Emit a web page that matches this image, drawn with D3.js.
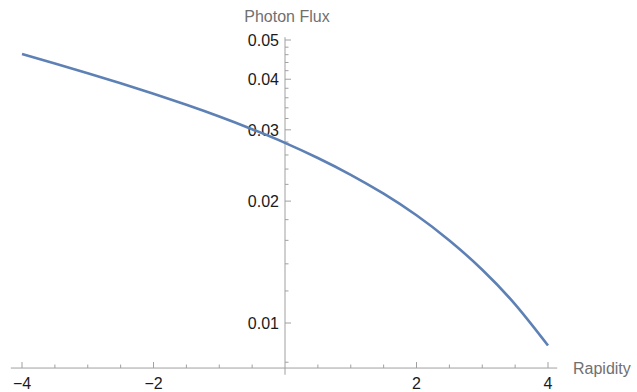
<!DOCTYPE html>
<html>
<head>
<meta charset="utf-8">
<script src="https://cdn.jsdelivr.net/npm/d3@7"></script>
<style>
  html, body { margin: 0; padding: 0; background: #fff; }
  svg { display: block; font-family: "Liberation Sans", Arial, sans-serif; }
</style>
</head>
<body>
<svg id="chart" width="637" height="392"></svg>
<script>
// Data
const rapidity = [-4, -3.5, -3, -2.5, -2, -1.5, -1, -0.5, 0, 0.5, 1, 1.5, 2, 2.5, 3, 3.5, 4];
const photonFlux = [0.04615, 0.04374, 0.04140, 0.03910, 0.03683, 0.03459, 0.03236, 0.03011,
                    0.02786, 0.02556, 0.02323, 0.02086, 0.01845, 0.01599, 0.01354, 0.01112, 0.00880];
const xMajorTicks = [-4, -2, 2, 4];
const xMinorTicks = [-3.5, -3, -2.5, -1.5, -1, -0.5, 0.5, 1, 1.5, 2.5, 3, 3.5];
const yMajorTicks = [0.01, 0.02, 0.03, 0.04, 0.05];
const yMinorTicks = [0.008, 0.012, 0.014, 0.016, 0.018, 0.022, 0.024, 0.026, 0.028,
                     0.032, 0.034, 0.036, 0.038, 0.042, 0.044, 0.046, 0.048];
const xLabel = "Rapidity";
const yLabel = "Photon Flux";

const svg = d3.select("#chart");

const x = d3.scaleLinear().domain([-4, 4]).range([22, 548]);
const y = d3.scaleLog().domain([0.01, 0.05]).range([323, 40]);

const axisColor = "#a0a0a0";
const x0 = x(0);
const yAxisPos = y(0.00774);

// x axis line
svg.append("line")
  .attr("x1", x(-4.17)).attr("x2", x(4.14))
  .attr("y1", yAxisPos).attr("y2", yAxisPos)
  .attr("stroke", axisColor).attr("stroke-width", 1);

// y axis line
svg.append("line")
  .attr("x1", x0).attr("x2", x0)
  .attr("y1", y(0.0508)).attr("y2", y(0.00745))
  .attr("stroke", axisColor).attr("stroke-width", 1);

// x ticks
svg.append("g").selectAll("line").data(xMajorTicks).join("line")
  .attr("x1", d => x(d)).attr("x2", d => x(d))
  .attr("y1", yAxisPos).attr("y2", yAxisPos - 6)
  .attr("stroke", axisColor);
svg.append("g").selectAll("line").data(xMinorTicks).join("line")
  .attr("x1", d => x(d)).attr("x2", d => x(d))
  .attr("y1", yAxisPos).attr("y2", yAxisPos - 3.5)
  .attr("stroke", axisColor);
svg.append("g").selectAll("text").data(xMajorTicks).join("text")
  .attr("x", d => x(d)).attr("y", yAxisPos + 21)
  .attr("text-anchor", "middle")
  .attr("font-size", 16).attr("fill", "#1a1a1a")
  .text(d => d < 0 ? "\u2212" + Math.abs(d) : String(d));

// y ticks
svg.append("g").selectAll("line").data(yMajorTicks).join("line")
  .attr("x1", x0).attr("x2", x0 + 6)
  .attr("y1", d => y(d)).attr("y2", d => y(d))
  .attr("stroke", axisColor);
svg.append("g").selectAll("line").data(yMinorTicks).join("line")
  .attr("x1", x0).attr("x2", x0 + 3.5)
  .attr("y1", d => y(d)).attr("y2", d => y(d))
  .attr("stroke", axisColor);
svg.append("g").selectAll("text").data(yMajorTicks).join("text")
  .attr("x", x0 - 6).attr("y", d => y(d))
  .attr("dy", "0.36em")
  .attr("text-anchor", "end")
  .attr("font-size", 16).attr("fill", "#1a1a1a")
  .text(d => d3.format(".2f")(d));

// axis labels
svg.append("text")
  .attr("x", x0 + 2).attr("y", 22)
  .attr("text-anchor", "middle")
  .attr("font-size", 16).attr("fill", "#707070")
  .text(yLabel);
svg.append("text")
  .attr("x", 573).attr("y", yAxisPos + 6)
  .attr("text-anchor", "start")
  .attr("font-size", 16).attr("fill", "#707070")
  .text(xLabel);

// curve
const line = d3.line()
  .x((d, i) => x(rapidity[i]))
  .y(d => y(d))
  .curve(d3.curveNatural);
svg.append("path")
  .datum(photonFlux)
  .attr("d", line)
  .attr("fill", "none")
  .attr("stroke", "#5E81B5")
  .attr("stroke-width", 2.6)
  .attr("stroke-linecap", "butt");
</script>
</body>
</html>
